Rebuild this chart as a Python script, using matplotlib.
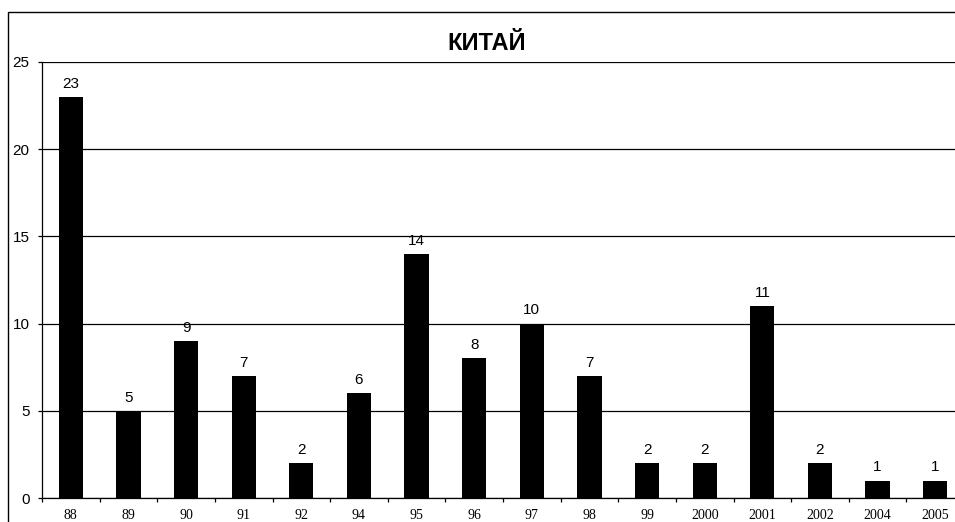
import matplotlib
matplotlib.use("Agg")
import matplotlib.pyplot as plt
from matplotlib.patches import Rectangle
import numpy as np

categories = ["88", "89", "90", "91", "92", "94", "95", "96", "97", "98",
              "99", "2000", "2001", "2002", "2004", "2005"]
values = [23, 5, 9, 7, 2, 6, 14, 8, 10, 7, 2, 2, 11, 2, 1, 1]
y_ticks = [0, 5, 10, 15, 20, 25]
title = "КИТАЙ"

W, H = 955, 522
fig = plt.figure(figsize=(W / 100, H / 100), dpi=100)
fig.patch.set_facecolor("white")

# outer chart frame
fig.add_artist(Rectangle((8 / W, -0.05), 1.1, 1 - 12 / H + 0.05,
                         transform=fig.transFigure, fill=False,
                         edgecolor="black", linewidth=1.0))

left, right_px, top_px, bottom_px = 42, 964, 62, 498
ax = fig.add_axes([left / W, (H - bottom_px) / H,
                   (right_px - left) / W, (bottom_px - top_px) / H])
ax.set_facecolor("none")

x = np.arange(len(categories))
bars = ax.bar(x, values, width=0.42, color="black", zorder=3)
for xi, v in zip(x, values):
    ax.annotate(str(v), (xi, v), xytext=(0, 4.5), textcoords="offset points",
                ha="center", va="bottom", fontsize=11,
                family="Liberation Sans")

ax.set_xlim(-0.5, len(categories) - 0.5)
ax.set_ylim(0, 25)
ax.set_yticks(y_ticks)
ax.yaxis.grid(True, color="black", linewidth=0.9, zorder=0)
ax.set_axisbelow(True)

ax.set_xticks(x)
ax.set_xticklabels(categories, family="Liberation Serif", fontsize=10)
ax.set_xticks(np.arange(-0.5, len(categories)), minor=True)
ax.tick_params(axis="x", which="major", length=0, pad=8)
ax.tick_params(axis="x", which="minor", length=3, width=0.9, direction="out")
ax.tick_params(axis="y", length=3, width=0.9, pad=6, labelsize=11)
for lab in ax.get_yticklabels():
    lab.set_family("Liberation Sans")

for s in ["top", "right"]:
    ax.spines[s].set_visible(False)
ax.spines["left"].set_linewidth(0.9)
ax.spines["bottom"].set_linewidth(0.9)

fig.text(487 / W, 1 - 44 / H, title, ha="center", va="center",
         fontsize=17, fontweight="bold", family="Liberation Sans")

fig.savefig("out.png", dpi=100)
